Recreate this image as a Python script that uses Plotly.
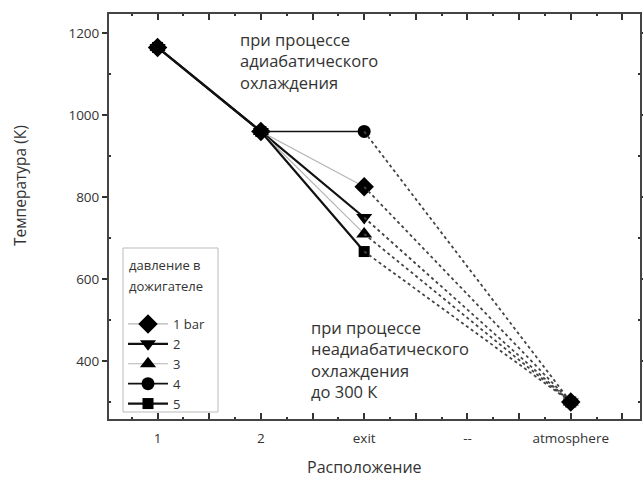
import plotly.graph_objects as go

locations = ["1", "2", "exit", "--", "atmosphere"]
loc_pos = [1, 2, 3, 4, 5]
series_names = ["1 bar", "2", "3", "4", "5"]
t_loc1 = [1165, 1165, 1165, 1165, 1165]
t_loc2 = [960, 960, 960, 960, 960]
t_exit = [825, 750, 710, 960, 667]
t_atm = [300, 300, 300, 300, 300]

symbols = ["diamond", "triangle-down", "triangle-up", "circle", "square"]
line_colors = ["#b5b5b5", "#111111", "#b5b5b5", "#111111", "#111111"]
line_widths = [1.2, 2.2, 1.2, 1.6, 2.2]
marker_sizes = [15, 14, 14, 13, 11]

pos = dict(zip(locations, loc_pos))
fig = go.Figure()
for i, name in enumerate(series_names):
    fig.add_trace(go.Scatter(
        x=[pos["1"], pos["2"], pos["exit"]],
        y=[t_loc1[i], t_loc2[i], t_exit[i]],
        mode="lines+markers", name=name,
        line=dict(color=line_colors[i], width=line_widths[i]),
        marker=dict(symbol=symbols[i], size=marker_sizes[i], color="#000000"),
    ))
for i, name in enumerate(series_names):
    fig.add_trace(go.Scatter(
        x=[pos["exit"], pos["atmosphere"]],
        y=[t_exit[i], t_atm[i]],
        mode="lines", showlegend=False,
        line=dict(color="#444444", width=1.8, dash="dot"),
    ))
    fig.add_trace(go.Scatter(
        x=[pos["atmosphere"]], y=[t_atm[i]], mode="markers", showlegend=False,
        marker=dict(symbol=symbols[i], size=marker_sizes[i], color="#000000"),
    ))

tickvals = [0.5, 1, 1.5, 2, 2.5, 3, 3.5, 4, 4.5, 5, 5.5]
ticktext = ["", "1", "", "2", "", "exit", "", "--", "", "atmosphere", ""]

L, R, T, B = 108, 641, 13, 420
W, H = R - L, B - T


def px(x):
    return (x - L) / W


def py(y):
    return (B - y) / H


fig.update_layout(
    width=643, height=479,
    margin=dict(l=L, r=643 - R, t=T, b=479 - B),
    paper_bgcolor="white", plot_bgcolor="white",
    font=dict(family="Open Sans", color="#333333", size=12),
    showlegend=True,
    legend=dict(
        x=px(123), y=py(309), xanchor="left", yanchor="top",
        borderwidth=0, bgcolor="rgba(0,0,0,0)",
        font=dict(size=13, color="#333"), tracegroupgap=0, itemwidth=40,
    ),
    xaxis=dict(
        range=[0.52, 5.68], tickvals=tickvals, ticktext=ticktext,
        ticks="inside", ticklen=7, tickwidth=1.5, tickcolor="#333",
        showline=False, mirror="ticks", ticklabelstandoff=8,
        showgrid=False, zeroline=False, tickfont=dict(size=13.5, color="#333"),
        minor=dict(tickvals=[0.75, 1.25, 1.75, 2.25, 2.75, 3.25, 3.75, 4.25, 4.75, 5.25],
                   ticks="inside", ticklen=3, tickcolor="#333", showgrid=False),
    ),
    yaxis=dict(
        range=[256, 1249], tickvals=[400, 600, 800, 1000, 1200],
        ticks="outside", ticklen=5, tickwidth=1.5, tickcolor="#333",
        showline=False, mirror="ticks",
        showgrid=False, zeroline=False, tickfont=dict(size=13.5, color="#333"),
        minor=dict(tickvals=[300, 500, 700, 900, 1100], ticks="inside", ticklen=3,
                   tickcolor="#333", showgrid=False),
    ),
    shapes=[
        dict(type="rect", xref="paper", yref="paper", x0=0, x1=1, y0=0, y1=1,
             line=dict(color="#444444", width=2), layer="above"),
        dict(type="rect", xref="paper", yref="paper", x0=px(123), x1=px(218), y0=py(412), y1=py(248),
             line=dict(color="#bbbbbb", width=1), layer="below"),
    ],
    annotations=[
        dict(text="давление в", xref="paper", yref="paper",
             x=px(127), y=py(265), xanchor="left", yanchor="middle",
             showarrow=False, font=dict(size=13, color="#333")),
        dict(text="дожигателе", xref="paper", yref="paper",
             x=px(127), y=py(286), xanchor="left", yanchor="middle",
             showarrow=False, font=dict(size=13, color="#333")),
        dict(text="при процессе<br>адиабатического<br>охлаждения", xref="paper", yref="paper",
             x=px(238), y=py(26), xanchor="left", yanchor="top",
             align="left", showarrow=False, font=dict(size=16.5, color="#333")),
        dict(text="при процессе<br>неадиабатического<br>охлаждения<br>до 300 К", xref="paper", yref="paper",
             x=px(309), y=py(314), xanchor="left", yanchor="top",
             align="left", showarrow=False, font=dict(size=16.5, color="#333")),
        dict(text="Температура (К)", xref="paper", yref="paper", textangle=-90,
             x=px(20), y=py(186), xanchor="center", yanchor="middle",
             showarrow=False, font=dict(size=15.5, color="#333")),
        dict(text="Расположение", xref="paper", yref="paper",
             x=px(364), y=py(467), xanchor="center", yanchor="middle",
             showarrow=False, font=dict(size=16, color="#333")),
    ],
)
fig.write_html("out.html", post_script="document.body.style.margin='0';",
               config={"displayModeBar": False})
